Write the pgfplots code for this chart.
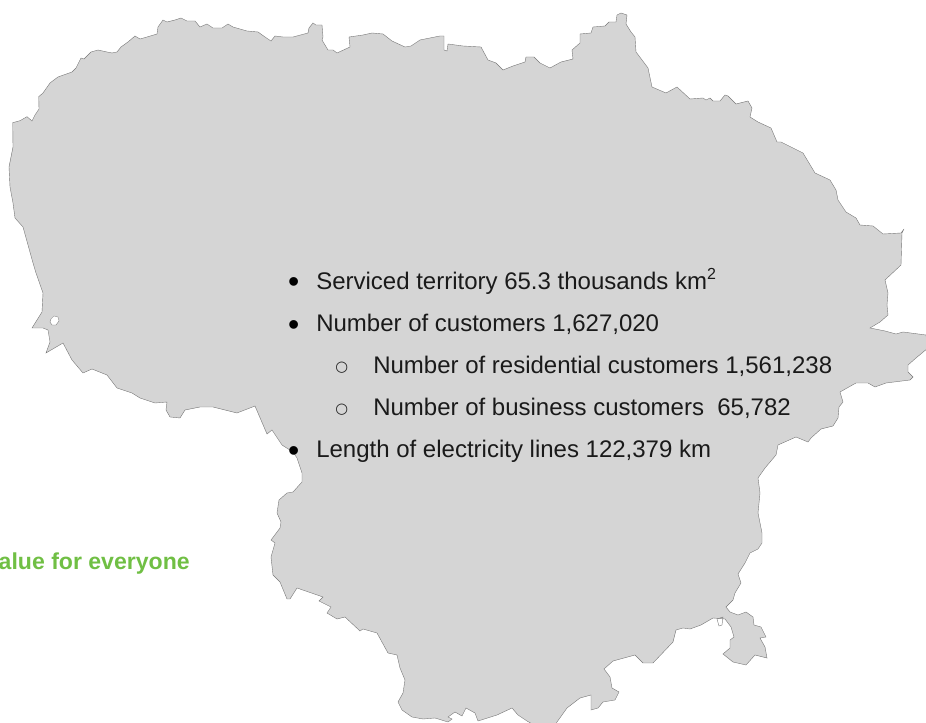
\documentclass[border=0pt]{standalone}
\usepackage{pgfplots}
\pgfplotsset{compat=1.18}
\usepackage{fontspec}
\setmainfont{Liberation Sans}
\newfontfamily\symf{DejaVu Sans}
\definecolor{mapfill}{HTML}{D5D5D5}
\definecolor{mapline}{HTML}{777777}
\definecolor{txt}{HTML}{1A1A1A}
\definecolor{ocol}{HTML}{222222}
\definecolor{grn}{HTML}{70BF44}
\begin{document}
\begin{tikzpicture}[x=1pt,y=1pt]
\path[use as bounding box] (0,0) rectangle (694.5pt,542.25pt);
\begin{axis}[at={(0,0)},anchor=south west,scale only axis,width=694.5pt,height=542.25pt,
 xmin=0,xmax=926,ymin=0,ymax=723,y dir=reverse,hide axis,clip=true]
\addplot[fill=mapfill,draw=mapline,line width=0.3pt] coordinates {
(12.7,122.7)(20,120.7)(27,116.7)(32,121)(35,115)(39,109)(38.7,96.7)(43,93)(50,83)(58,77)(72,72)(76,68)(81,58)(84,59)(91,52)(98,50)(107,52)(112,53)(117,52)(121,47)(128,42)(135,36)(140,39)(147,37)(157,34)(158,27)(163,20)(167,22)(175,20)(181,18)(187,21)(195,21)(200,27)(207,24)(213,28)(222,28)(228,24)(233,27)(247,31)(258,32)(265,37)(271,41)(275,36)(283,37)(293,37)(308,33)(309,28)(313,23)(316,25)(322,25)(323,37)(322,40)(328,50)(333,50)(337,53)(350,47)(349,37)(363,35)(372,33)(383,34)(392,41)(405,47)(411,46)(420,40)(440,36)(444,36)(444,50)(447,51)(448,44)(463,46)
(481,47)(488,60)(496,63)(503,70)(513,66)(525,62)(526,57)(534,57)(540,63)(550,68)(561,62)(573,59)(572,50)(580,43)(580,34)(591,33)(593,27)(605,26)(609,22)(616,22)(617,15)(621,13)(627,15)(626,24)(631,32)(635,37)(636,52)(648,68)(652,87)(666,93)(677,87)(690,99)(703,98)(706,100)(710,98)(713,101)(720,101)(725,95)(728,96)(736,104)(748,101)(752,108)(750,117)(758,122)(771,128)(777,142)(781,142)(803,153)(815,173)(830,180)(836,190)(838,200)(846,212)(856,218)(860,225)(873,226)(883,234)(901,233)(904,229)(902,233)(901,265)(885,280)(888,293)(887,305)(888,315)(880,322)(870,328)(885,331)(896,334)(903,332)(926,335)
(928,348)(916,358)(908,365)(908,372)(913,377)(910,380)(886,383)(875,387)(868,383)(856,383)(840,392)(843,402)(839,407)(838,418)(833,426)(821,429)(811,438)(808,442)(796,437)(778,445)(776,455)(765,468)(758,478)(760,493)(758,513)(762,533)(762,543)(758,549)(750,553)(745,563)(738,574)(741,583)(735,593)(733,600)(726,607)(730,612)(738,615)(746,612)(753,617)(754,625)(761,627)(766,637)(760,638)(765,647)(767,658)(755,655)(746,665)(733,662)(723,654)(730,648)(730,640)(734,637)(731,627)(725,619)(713,618)(701,625)(690,629)(683,628)(676,630)(673,642)(653,663)(643,663)(635,655)(613,661)(604,669)(610,677)(612,688)(619,692)(615,700)(603,702)(598,708)(591,710)(591,695)(580,698)(567,708)(557,722)(555,725)
(534,725)(527,721)(518,715)(512,708)(497,715)(478,721)(475,713)(466,708)(462,716)(455,712)(448,717)(452,719)(448,722)(435,718)(423,719)(412,717)(402,710)(398,702)(403,693)(405,680)(400,668)(397,655)(388,653)(377,633)(363,629)(360,631)(345,617)(337,619)(327,613)(331,607)(319,601)(323,597)(297,588)(290,599)(287,599)(280,582)(273,575)(271,557)(275,543)(271,540)(280,528)(281,522)(277,513)(279,500)(287,493)(293,492)(302,482)(302,473)(297,458)(293,452)(282,445)(272,430)(267,434)(255,406)(237,413)(213,407)(200,407)(185,410)(180,418)(170,417)(166,410)(167,402)(155,403)(140,398)(132,393)(117,388)(107,375)(92,369)(83,373)(72,360)
(63,343)(46,353)(50,342)(48,330)(43,328)(32,328)(42,312)(43,293)(36,273)(33,263)(23,227)(15,218)(13,203)(10,187)(9,167)(13,147)(12.7,122.7)
} -- cycle;
% inland lagoon hole on the west coast
\addplot[fill=white,draw=mapline,line width=0.25pt] coordinates {(51,319)(54,316)(58,317)(59,321)(56,325)(52,325)(50,322)} -- cycle;
% small lake at the neck in the south-east
\addplot[draw=mapline,line width=0.3pt] coordinates {(717,619)(723,617)(722,625)(719,626)(717,619)};
\node[anchor=base west,font=\fontsize{18pt}{20pt}\selectfont,text=txt,inner sep=0pt] at (axis cs:316,289.5) {Serviced territory 65.3 thousands km\raisebox{0.42em}{\fontsize{12pt}{12pt}\selectfont 2}};
\node[anchor=base west,font=\fontsize{18pt}{20pt}\selectfont,text=txt,inner sep=0pt] at (axis cs:316,332) {Number of customers 1,627,020};
\node[anchor=base west,font=\fontsize{18pt}{20pt}\selectfont,text=txt,inner sep=0pt] at (axis cs:373,374) {Number of residential customers 1,561,238};
\node[anchor=base west,font=\fontsize{18pt}{20pt}\selectfont,text=txt,inner sep=0pt] at (axis cs:373,415.5) {Number of business customers\ \ 65,782};
\node[anchor=base west,font=\fontsize{18pt}{20pt}\selectfont,text=txt,inner sep=0pt] at (axis cs:316,458) {Length of electricity lines 122,379 km};
\node[font=\fontsize{24pt}{26pt}\selectfont,text=black,inner sep=0pt] at (axis cs:293.7,285.2) {•};
\node[font=\fontsize{24pt}{26pt}\selectfont,text=black,inner sep=0pt] at (axis cs:293.7,328.5) {•};
\node[font=\fontsize{24pt}{26pt}\selectfont,text=black,inner sep=0pt] at (axis cs:293.7,454.5) {•};
\node[anchor=center,font=\symf\fontsize{11pt}{12pt}\selectfont,text=ocol,inner sep=0pt] at (axis cs:341.7,367.3) {○};
\node[anchor=center,font=\symf\fontsize{11pt}{12pt}\selectfont,text=ocol,inner sep=0pt] at (axis cs:341.7,409.7) {○};
\node[anchor=base east,font=\bfseries\fontsize{17.3pt}{18pt}\selectfont,text=grn,inner sep=0pt] at (axis cs:190,570) {alue for everyone};
\end{axis}
\end{tikzpicture}
\end{document}
